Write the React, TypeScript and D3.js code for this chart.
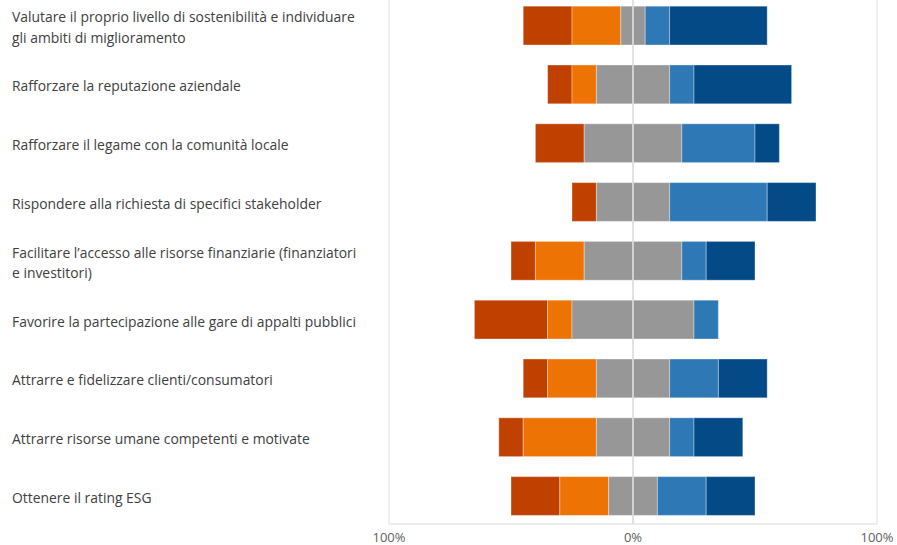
import React from "react";
import * as d3 from "d3";

const categories: string[] = [
  "Valutare il proprio livello di sostenibilità e individuare\ngli ambiti di miglioramento",
  "Rafforzare la reputazione aziendale",
  "Rafforzare il legame con la comunità locale",
  "Rispondere alla richiesta di specifici stakeholder",
  "Facilitare l’accesso alle risorse finanziarie (finanziatori\ne investitori)",
  "Favorire la partecipazione alle gare di appalti pubblici",
  "Attrarre e fidelizzare clienti/consumatori",
  "Attrarre risorse umane competenti e motivate",
  "Ottenere il rating ESG",
];

// percentages per response level
const veryNegative = [20, 10, 20, 10, 10, 30, 10, 10, 20];
const negative = [20, 10, 0, 0, 20, 10, 20, 30, 20];
const neutral = [10, 30, 40, 30, 40, 50, 30, 30, 20];
const positive = [10, 10, 30, 40, 10, 10, 20, 10, 20];
const veryPositive = [40, 40, 10, 20, 20, 0, 20, 20, 20];

const tickValues = [-100, 0, 100];
const tickLabels = ["100%", "0%", "100%"];

const colors = {
  veryNegative: "#C04000",
  negative: "#EE7305",
  neutral: "#979797",
  positive: "#2E79B5",
  veryPositive: "#034A86",
};

const W = 897;
const H = 545;

export default function App() {
  const x = d3.scaleLinear().domain([-100, 100]).range([389, 877]);
  const y = d3
    .scaleBand<number>()
    .domain(d3.range(categories.length))
    .range([-3.4, 525])
    .paddingInner(0.34)
    .paddingOuter(0.163);

  const segs: { key: string; x0: number; x1: number; i: number; color: string }[] = [];
  categories.forEach((_, i) => {
    const leftStart = -(veryNegative[i] + negative[i] + neutral[i] / 2);
    const parts: [string, number, string][] = [
      ["vn", veryNegative[i], colors.veryNegative],
      ["n", negative[i], colors.negative],
      ["nl", neutral[i] / 2, colors.neutral],
      ["nr", neutral[i] / 2, colors.neutral],
      ["p", positive[i], colors.positive],
      ["vp", veryPositive[i], colors.veryPositive],
    ];
    let cur = leftStart;
    parts.forEach(([k, v, c]) => {
      if (v > 0) segs.push({ key: `${i}-${k}`, x0: cur, x1: cur + v, i, color: c });
      cur += v;
    });
  });

  const bw = y.bandwidth();

  return (
    <svg
      width={W}
      height={H}
      style={{ position: "absolute", left: 0, top: 0, background: "#fff" }}
      fontFamily="'Open Sans', 'Noto Sans', sans-serif"
    >
      {/* frame / grid */}
      {tickValues.map((t) => (
        <line
          key={`g${t}`}
          x1={x(t)}
          x2={x(t)}
          y1={0}
          y2={524}
          stroke="#e6e6e6"
          strokeWidth={1.3}
        />
      ))}
      <line x1={x(-100)} x2={x(100)} y1={524} y2={524} stroke="#e6e6e6" strokeWidth={1.3} />

      {segs.map((s) => (
        <rect
          key={s.key}
          x={x(s.x0)}
          y={y(s.i)!}
          width={x(s.x1) - x(s.x0)}
          height={bw}
          fill={s.color}
          stroke="rgba(255,255,255,0.35)"
          strokeWidth={1}
        />
      ))}

      <line x1={x(0)} x2={x(0)} y1={0} y2={524} stroke="#dcdcdc" strokeWidth={1.5} />

      {categories.map((c, i) => {
        const lines = c.split("\n");
        const cy = y(i)! + bw / 2 + 1.5;
        const lh = 20.5;
        return (
          <text key={`l${i}`} fill="#404040" fontSize={13.9}>
            {lines.map((ln, j) => (
              <tspan
                key={j}
                x={12}
                y={cy + (j - (lines.length - 1) / 2) * lh}
                dominantBaseline="central"
              >
                {ln}
              </tspan>
            ))}
          </text>
        );
      })}

      {tickValues.map((t, k) => (
        <text
          key={`t${t}`}
          x={x(t)}
          y={537}
          textAnchor="middle"
          dominantBaseline="central"
          fill="#606060"
          fontSize={13}
        >
          {tickLabels[k]}
        </text>
      ))}
    </svg>
  );
}
